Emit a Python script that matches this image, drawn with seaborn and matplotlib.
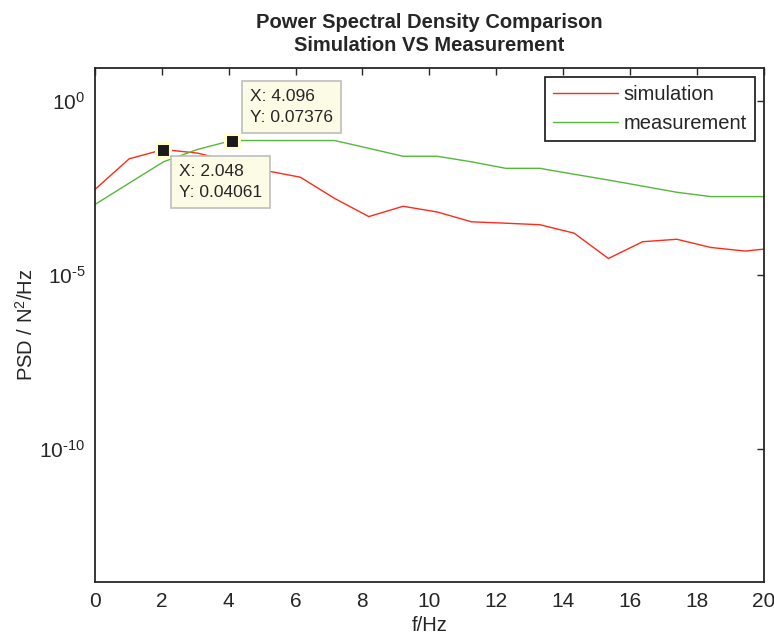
import numpy as np
import pandas as pd
import matplotlib
matplotlib.use("Agg")
import matplotlib.pyplot as plt
import seaborn as sns
from matplotlib.ticker import FuncFormatter, FixedLocator, NullLocator

# ---- data ----
freq = [0.0, 1.024, 2.048, 3.072, 4.096, 5.12, 6.144, 7.168, 8.192, 9.216, 10.24,
        11.264, 12.288, 13.312, 14.336, 15.36, 16.384, 17.408, 18.432, 19.456, 20.48]
simulation = [2.9e-3, 2.2e-2, 4.061e-2, 3.2e-2, 1.8e-2, 1.0e-2, 6.5e-3, 1.6e-3, 4.8e-4,
              9.5e-4, 6.5e-4, 3.4e-4, 3.1e-4, 2.8e-4, 1.6e-4, 3.0e-5, 9.1e-5, 1.07e-4,
              6.2e-5, 4.9e-5, 6.2e-5]
measurement = [1.07e-3, 4.4e-3, 1.8e-2, 4.1e-2, 7.376e-2, 7.376e-2, 7.376e-2, 7.376e-2,
               4.4e-2, 2.6e-2, 2.6e-2, 1.8e-2, 1.17e-2, 1.17e-2, 7.9e-3, 5.4e-3, 3.6e-3,
               2.4e-3, 1.8e-3, 1.8e-3, 1.8e-3]
series_names = ["simulation", "measurement"]
series_colors = ["#FF2A1A", "#55B83A"]
x_ticks = [0, 2, 4, 6, 8, 10, 12, 14, 16, 18, 20]
y_ticks = [1e0, 1e-5, 1e-10]
tips = [(4.096, 0.07376), (2.048, 0.04061)]
title_text = "Power Spectral Density Comparison\nSimulation VS Measurement"

df = pd.DataFrame({
    "f": freq * 2,
    "psd": simulation + measurement,
    "series": [series_names[0]] * len(freq) + [series_names[1]] * len(freq),
})

sns.set_theme(style="white")
plt.rcParams["font.family"] = ["Liberation Sans", "DejaVu Sans"]
plt.rcParams["mathtext.fontset"] = "custom"
plt.rcParams["mathtext.rm"] = "Liberation Sans"
plt.rcParams["mathtext.it"] = "Liberation Sans:italic"
plt.rcParams["mathtext.bf"] = "Liberation Sans:bold"

fig = plt.figure(figsize=(7.74, 6.37), dpi=100)
ax = fig.add_axes([95 / 774, 1 - 582 / 637, (763.5 - 95) / 774, (582 - 67.7) / 637])

sns.lineplot(data=df, x="f", y="psd", hue="series", palette=series_colors,
             hue_order=series_names, ax=ax, linewidth=1.0, legend=True, sort=False)
ax.set_yscale("log")
ax.set_xlim(0, 20)
ax.set_ylim(10 ** -13.82, 10 ** 0.96)

dark = "#262626"
for s in ax.spines.values():
    s.set_visible(True)
    s.set_color(dark)
    s.set_linewidth(1.3)


def log_label(v, pos):
    e = int(round(np.log10(v)))
    if e < 0:
        return r"$10^{\text{-}%d}$" % (-e)
    return r"$10^{%d}$" % e


ax.xaxis.set_major_locator(FixedLocator(x_ticks))
ax.yaxis.set_major_locator(FixedLocator(y_ticks))
ax.yaxis.set_minor_locator(NullLocator())
ax.xaxis.set_minor_locator(NullLocator())
ax.yaxis.set_major_formatter(FuncFormatter(log_label))
ax.tick_params(which="both", direction="in", top=True, right=True, length=5,
               width=1.0, color=dark, labelsize=15, labelcolor=dark, pad=7)

ax.set_xlabel("f/Hz", fontsize=14.5, color=dark, labelpad=4)
ax.set_ylabel("PSD / N$^{2}$/Hz", fontsize=14.5, color=dark, labelpad=2)
ax.set_title(title_text, fontsize=14.5, fontweight="bold", color=dark, pad=12,
             linespacing=1.25)

handles, labels = ax.get_legend_handles_labels()
leg = ax.legend(handles, labels, loc="upper right", bbox_to_anchor=(0.9873, 0.9825),
                borderaxespad=0, fontsize=14.5, frameon=True, fancybox=False,
                edgecolor=dark, framealpha=1, handlelength=3.2, handletextpad=0.3,
                labelspacing=0.5, borderpad=0.4)
leg.get_frame().set_linewidth(1.3)
for t in leg.get_texts():
    t.set_color(dark)

# data tips
pad_px = 0.45 * 12.5 * 100 / 72
offsets = [(10 + pad_px, 7.7 + pad_px, "bottom"), (7.7 + pad_px, -(6.6 + pad_px), "top")]
for (tx, ty), (dx, dy, va) in zip(tips, offsets):
    ax.plot([tx], [ty], marker="s", markersize=9.5, color="#1a1a1a",
            markeredgecolor="#FFFFD0", markeredgewidth=2.2, zorder=5,
            linestyle="none")
    ax.annotate(f"X: {tx:g}\nY: {ty:g}", xy=(tx, ty), xytext=(dx, dy),
                textcoords="offset pixels", ha="left", va=va, fontsize=12.5,
                color=dark, linespacing=1.5, zorder=6,
                bbox=dict(boxstyle="square,pad=0.45", facecolor="#FCFCE6",
                          edgecolor="#BDBDBD", linewidth=1.2))

fig.savefig("out.png", dpi=100, facecolor="white")
